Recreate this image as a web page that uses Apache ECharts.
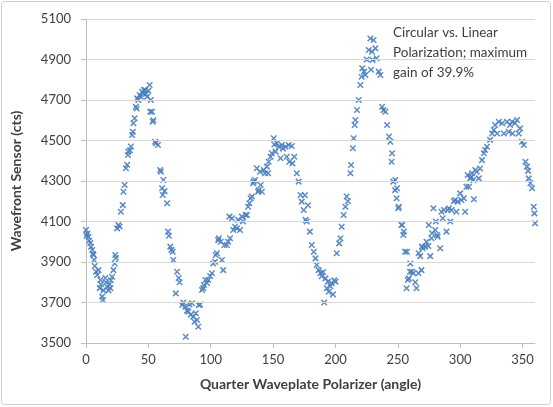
<!DOCTYPE html>
<html>
<head>
<meta charset="utf-8">
<script src="https://cdn.jsdelivr.net/npm/echarts@6/dist/echarts.min.js"></script>
<style>
  html, body { margin: 0; padding: 0; background: #fff; }
  #chart { width: 553px; height: 407px; }
</style>
</head>
<body>
<div id="chart"></div>
<script>
// Quarter waveplate rotation angle (degrees)
const angles = [
  0,0.5,1,2,2.5,3.5,4,5,5.5,6,6.5,7,8,9,10,11,11.5,12,13,13.5,14,15.5,16,17,18,19,19.5,20,21,22,
  23,23.5,24,25,26,27,28,29.5,30,31,32,33,33.7,34,35.3,36,37,37.5,38,39,40,40.6,41,42,43,44,45,46,46.5,47.5,
  48,49,50,51,51.5,52,53,53.5,54,55.5,56,57.7,59.5,60,61,61.5,62,63,65,65.8,66.5,67.6,68.5,69.5,70,72,73,74.3,75,77,
  78,79.6,80,81,82,83,84,85,86,87,88,89,90,90.4,91.5,93,94,94.5,95.7,97,98,99.5,101,102,103.5,104,105,106,
  106.5,108,109,110,111,113,114,115,115.5,117,118,119.5,121,122,123.5,125,126,128,129,130,131,132,133,134,134.5,135.5,137,138,138.5,139.5,
  140,141,142.5,143.5,145,146,146.5,148,149,150.5,151,152,153,154.5,156,157,158,160,161,162.5,163,165,165.5,167,169,170.5,172,173,174.5,175.5,
  176,177,178,179.5,181,182.6,184,185,186.5,188,189,190,191,192,193,194,194.6,196,197,198,199,200,201,203,204,205,206.6,208,209,210,
  212,212.5,214,214.6,215.4,216,217.3,218.7,220,221,221.5,223,224,225,226.7,228,228.5,229.3,229.8,230.6,232,233,234.7,236,237.4,238.5,240,241.4,243,244,
  245,245.4,246.4,247.8,248,249,249.4,250.4,250.8,253,253.4,254.4,254.8,255.8,257,257.4,258,258.8,259.8,260,261.4,262.4,264,265,266.5,266.7,268,269,269.4,270,
  272,273,274.5,274.8,276,277,277.5,278.5,280,280.5,281.5,282,284,285,286,287,289,290,291,292,293,295,296,297,298,300,301,303,304,305,
  306,307,308,309,309.5,310.6,311,312,313.3,315,316,317.5,319,320,321.5,324,325.6,327,328,329.6,331,333.6,335,337.6,339,340,341.6,342,344,345.6,
  347,348,349.6,351,352.3,353.6,354.5,355,356.3,357.7,359,359.5,360
];

// Wavefront sensor reading (counts) at each angle
const counts = [
  4058,4030,4040,4025,4005,3994,3975,3959,3940,3935,3910,3880,3852,3836,3860,3771,3811,3790,3729,3712,3760,3821,3800,3778,3760,3790,3771,3810,3827,3860,
  3893,3935,3920,4066,4083,4075,4148,4181,4247,4280,4363,4380,4428,4445,4452,4470,4527,4543,4585,4610,4667,4658,4708,4700,4725,4716,4741,4733,4749,4749,
  4730,4716,4745,4774,4642,4700,4642,4593,4600,4494,4486,4478,4354,4346,4264,4231,4305,4250,4190,4050,4030,3976,3960,3951,3910,3745,3852,3821,3800,3688,
  3700,3679,3531,3660,3655,3690,3640,3696,3630,3605,3647,3614,3580,3688,3690,3762,3771,3786,3811,3796,3811,3831,3844,3893,3901,3935,3943,4008,
  4017,4000,3910,3860,3984,3984,4000,4124,4017,4116,4058,4074,4066,4108,4058,4124,4100,4132,4132,4173,4190,4215,4223,4289,4297,4305,4363,4247,4255,4346,
  4280,4247,4354,4338,4371,4338,4395,4420,4437,4511,4480,4445,4486,4469,4412,4478,4460,4469,4420,4478,4395,4473,4387,4420,4338,4297,4231,4198,4157,4230,
  4108,4100,4180,4050,3984,3951,3918,3885,3860,3844,3830,3850,3700,3819,3770,3803,3753,3780,3795,3740,3810,3803,3943,3992,4017,4074,4132,4173,4223,4200,
  4338,4379,4462,4511,4577,4601,4651,4700,4774,4815,4857,4840,4823,4900,4947,5004,4849,4938,4898,4996,4955,4906,4840,4823,4667,4650,4642,4577,4520,4494,
  4395,4437,4297,4255,4305,4215,4264,4165,4173,4083,4083,4033,4050,3951,3770,3951,3811,3819,3852,3893,3852,3844,3800,3770,3844,3943,3929,3860,3976,3968,
  3976,4000,3979,4083,3929,4017,4042,4165,4058,4100,4033,4025,3968,4148,4116,4157,4050,4157,4165,4100,4157,4200,4206,4148,4198,4239,4206,4215,4148,4272,
  4330,4272,4313,4321,4338,4305,4210,4354,4346,4313,4362,4403,4437,4453,4469,4503,4535,4552,4577,4535,4593,4585,4535,4593,4543,4577,4593,4535,4585,4601,
  4535,4560,4494,4478,4395,4371,4350,4313,4289,4264,4173,4140,4091
];

const xTicks = [0, 50, 100, 150, 200, 250, 300, 350];
const yTicks = [3500, 3700, 3900, 4100, 4300, 4500, 4700, 4900, 5100];

const noteText = 'Circular vs. Linear\nPolarization; maximum\ngain of 39.9%';

const points = angles.map((a, i) => [a, counts[i]]);

const FONT = 'Lato, "Open Sans", sans-serif';
const chart = echarts.init(document.getElementById('chart'), null, { renderer: 'canvas' });

chart.setOption({
  animation: false,
  backgroundColor: '#ffffff',
  textStyle: { fontFamily: FONT },
  grid: { left: 86, right: 18, top: 19, bottom: 64, containLabel: false },
  graphic: [
    {
      type: 'rect',
      shape: { x: 1.5, y: 1.5, width: 549, height: 403, r: 3 },
      style: { fill: 'none', stroke: '#d0d0d0', lineWidth: 1 },
      silent: true
    },
    {
      type: 'text',
      left: 393, top: 23,
      style: {
        text: noteText,
        fill: '#404040',
        font: '13.5px ' + FONT,
        lineHeight: 20
      },
      silent: true
    }
  ],
  xAxis: {
    type: 'value',
    min: 0, max: 360,
    name: 'Quarter Waveplate Polarizer (angle)',
    nameLocation: 'middle',
    nameGap: 34,
    nameTextStyle: { fontFamily: FONT, fontWeight: 'bold', fontSize: 14, color: '#404040' },
    axisLine: { show: true, lineStyle: { color: '#bfbfbf', width: 1 } },
    axisTick: { show: true, customValues: xTicks, length: 5, lineStyle: { color: '#bfbfbf' } },
    axisLabel: { customValues: xTicks, fontSize: 13, color: '#404040', margin: 10, fontFamily: FONT },
    splitLine: { show: false }
  },
  yAxis: {
    type: 'value',
    min: 3500, max: 5100,
    name: 'Wavefront Sensor (cts)',
    nameLocation: 'middle',
    nameGap: 63,
    nameRotate: 90,
    nameTextStyle: { fontFamily: FONT, fontWeight: 'bold', fontSize: 14, color: '#404040' },
    axisLine: { show: true, lineStyle: { color: '#bfbfbf', width: 1 } },
    axisTick: { show: true, customValues: yTicks, length: 5, inside: false, lineStyle: { color: '#bfbfbf' } },
    axisLabel: {
      customValues: yTicks, fontSize: 13, color: '#404040', margin: 15, fontFamily: FONT,
      formatter: v => String(v)
    },
    splitLine: { show: false }
  },
  series: [
    {
      type: 'scatter',
      data: points,
      symbol: 'path://M0,0L10,10M10,0L0,10',
      symbolSize: 5.5,
      itemStyle: { color: '#4a7ebf', borderColor: '#4a7ebf', borderWidth: 1.5, opacity: 0.9 },
      markLine: {
        silent: true,
        symbol: 'none',
        label: { show: false },
        animation: false,
        lineStyle: { color: '#d9d9d9', width: 1, type: 'solid' },
        data: yTicks.slice(1).map(v => ({ yAxis: v }))
      },
      z: 3
    }
  ]
});
</script>
</body>
</html>
